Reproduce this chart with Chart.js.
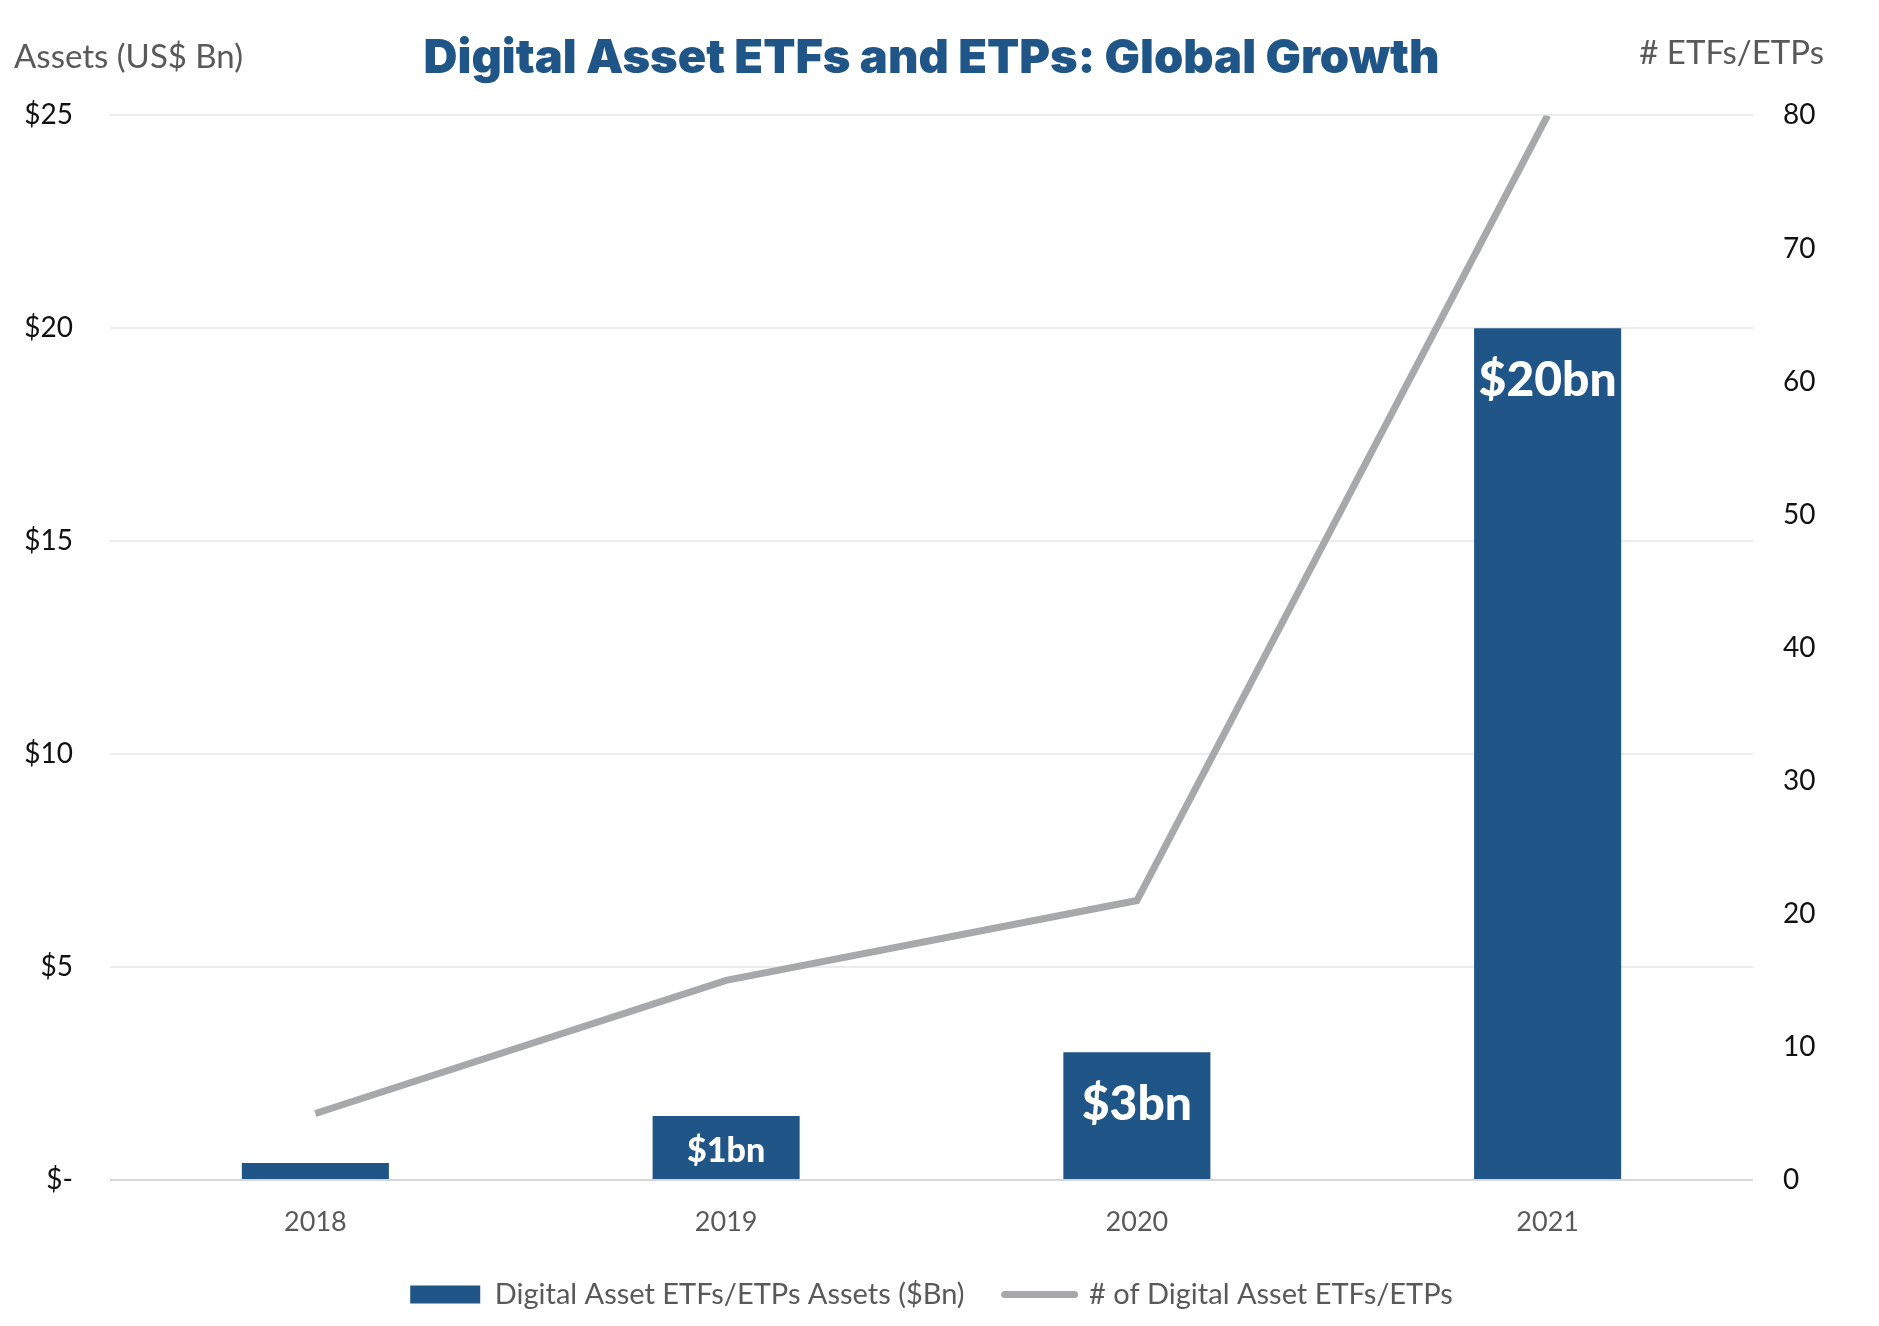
<!DOCTYPE html>
<html>
<head>
<meta charset="utf-8">
<script src="https://cdn.jsdelivr.net/npm/chart.js@4.4.1/dist/chart.umd.min.js"></script>
<style>
  html, body { margin: 0; padding: 0; background: #fff; }
  #wrap { width: 1879px; height: 1326px; position: relative; }
</style>
</head>
<body>
<div id="wrap"><canvas id="chartEtf"></canvas></div>
<script>
// values
const years = ['2018', '2019', '2020', '2021'];
const assetsBn = [0.4, 1.5, 3, 20];
const fundCount = [5, 15, 21, 80];
const barLabels = ['', '$1bn', '$3bn', '$20bn'];
const leftTicks = [0, 5, 10, 15, 20, 25];
const rightTicks = [0, 10, 20, 30, 40, 50, 60, 70, 80];

const azul = '#1f5587';
const cinza = '#a6a8aa';
const fonte = 'Lato, "Open Sans", sans-serif';

// axis titles + labels inside the bars
const extras = {
  id: 'extras',
  afterDatasetsDraw(chart) {
    const ctx = chart.ctx;
    const meta = chart.getDatasetMeta(1);
    ctx.save();
    ctx.fillStyle = '#ffffff';
    ctx.textAlign = 'center';
    ctx.textBaseline = 'middle';
    meta.data.forEach((bar, i) => {
      if (!barLabels[i]) return;
      const h = bar.base - bar.y;
      const size = h < 90 ? 34 : 48;
      ctx.font = '900 ' + size + 'px ' + fonte;
      const y = Math.min(bar.y + 52, bar.y + h / 2 + 3);
      ctx.fillText(barLabels[i], bar.x, y);
    });
    ctx.restore();
  },
  afterDraw(chart) {
    const ctx = chart.ctx;
    ctx.save();
    ctx.fillStyle = '#595959';
    ctx.font = '33px ' + fonte;
    ctx.textBaseline = 'middle';
    ctx.textAlign = 'left';
    ctx.fillText('Assets (US$ Bn)', 14, 57);
    ctx.textAlign = 'right';
    ctx.fillText('# ETFs/ETPs', chart.width - 55, 53);
    ctx.restore();
  }
};

new Chart('chartEtf', {
  data: {
    labels: years,
    datasets: [
      {
        type: 'line',
        label: '# of Digital Asset ETFs/ETPs',
        data: fundCount,
        yAxisID: 'yCount',
        borderColor: cinza,
        backgroundColor: cinza,
        borderWidth: 7,
        pointRadius: 0,
        tension: 0,
        order: 0
      },
      {
        type: 'bar',
        label: 'Digital Asset ETFs/ETPs Assets ($Bn)',
        data: assetsBn,
        yAxisID: 'yAssets',
        backgroundColor: azul,
        categoryPercentage: 1,
        barPercentage: 0.358,
        order: 1
      }
    ]
  },
  options: {
    responsive: true,
    maintainAspectRatio: false,
    animation: false,
    layout: { padding: { left: 0, right: 0, top: 0, bottom: 7 } },
    scales: {
      x: {
        grid: { display: false, drawTicks: false },
        border: { display: false },
        afterFit: (s) => { s.height = 60; },
        ticks: { color: '#595959', font: { family: fonte, size: 27 }, padding: 26 }
      },
      yAssets: {
        position: 'left',
        min: 0,
        max: 25,
        afterBuildTicks: (s) => { s.ticks = leftTicks.map(v => ({ value: v })); },
        afterFit: (s) => { s.width = 110; },
        border: { display: false },
        grid: {
          drawTicks: false,
          lineWidth: 2,
          color: (c) => c.tick && c.tick.value === 0 ? '#d6d6d6' : '#ececec'
        },
        ticks: {
          color: '#111',
          padding: 37,
          font: { family: fonte, size: 28 },
          callback: (v) => v === 0 ? '$-' : '$' + v
        }
      },
      yCount: {
        position: 'right',
        min: 0,
        max: 80,
        afterBuildTicks: (s) => { s.ticks = rightTicks.map(v => ({ value: v })); },
        afterFit: (s) => { s.width = 126; },
        border: { display: false },
        grid: { display: false, drawTicks: false },
        ticks: { color: '#111', padding: 30, font: { family: fonte, size: 28 } }
      }
    },
    plugins: {
      title: {
        display: true,
        fullSize: false,
        text: 'Digital Asset ETFs and ETPs: Global Growth',
        color: azul,
        font: { family: 'Inter, Roboto, sans-serif', size: 47, weight: 900 },
        padding: { top: 31, bottom: 28 }
      },
      legend: {
        position: 'bottom',
        fullSize: false,
        labels: {
          usePointStyle: true,
          pointStyleWidth: 70,
          boxHeight: 18,
          padding: 40,
          color: '#595959',
          font: { family: fonte, size: 29 },
          generateLabels: (chart) => [
            { text: chart.data.datasets[1].label, pointStyle: 'rect', fillStyle: azul, strokeStyle: azul, lineWidth: 0, datasetIndex: 1, fontColor: '#595959' },
            { text: chart.data.datasets[0].label, pointStyle: 'line', fillStyle: cinza, strokeStyle: cinza, lineWidth: 7, lineCap: 'round', datasetIndex: 0, fontColor: '#595959' }
          ]
        }
      },
      tooltip: { enabled: false }
    }
  },
  plugins: [extras]
});
</script>
</body>
</html>
